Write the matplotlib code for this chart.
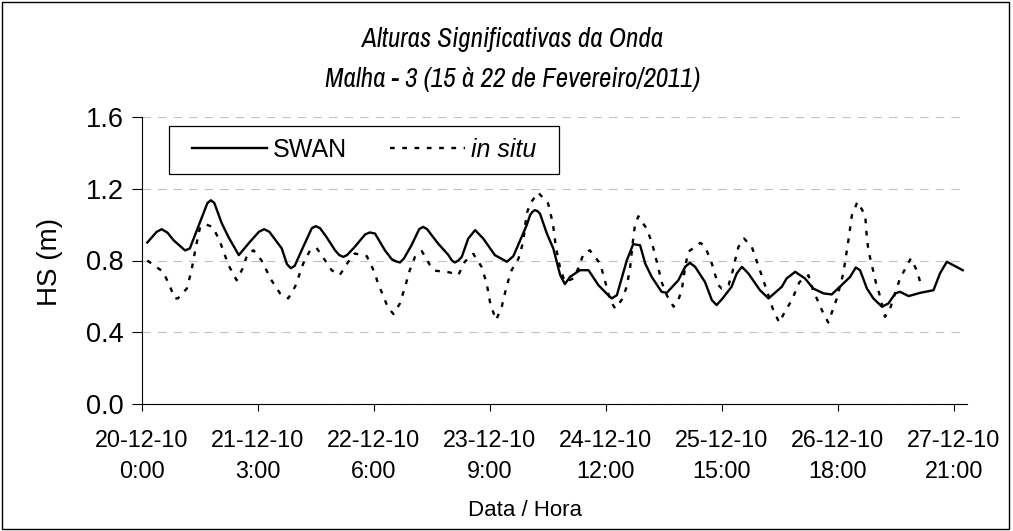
import matplotlib
matplotlib.use('Agg')
import matplotlib.pyplot as plt
from matplotlib.patches import Rectangle
from matplotlib import font_manager
from matplotlib.font_manager import FontProperties

# ---------------- data (hours since 20-12-10 0:00, HS in m) ----------------
swan_hours = [1.3, 3.5, 4.65, 6.0, 7.4, 10.1, 11.2, 15.3, 16.1, 16.9, 18.6, 20.2, 22.6, 25.2, 27.3, 28.5,
              29.7, 32.6, 33.8, 34.7, 35.6, 37.6, 39.6, 40.5, 41.5, 43.0, 45.0, 46.0, 46.9, 47.8, 49.6,
              52.0, 53.1, 54.3, 56.6, 58.2, 59.2, 60.1, 61.0, 62.8, 64.6, 65.5, 66.4, 69.0, 71.4, 72.2,
              72.9, 73.7, 74.5, 76.0, 77.6, 79.5, 82.2, 85.0, 86.5, 88.1, 89.6, 90.4, 90.9, 91.5, 92.1,
              92.7, 94.3, 95.8, 97.4, 98.5, 99.7, 102.0, 104.0, 106.3, 107.8, 109.4, 110.6, 112.9, 114.4,
              116.0, 117.2, 118.7, 121.0, 122.2, 124.9, 126.5, 127.6, 128.8, 131.1, 132.7, 133.8,
              135.2, 137.3, 138.5, 139.7, 141.2, 143.9, 145.9, 149.0, 150.1, 152.1, 154.4, 156.3,
              158.7, 160.6, 162.9, 164.9, 166.2, 167.2, 168.8, 170.3, 172.3, 173.8, 175.4, 176.5,
              178.5, 181.2, 184.3, 185.8, 187.4, 188.9, 191.1]
swan_hs = [0.900, 0.960, 0.974, 0.955, 0.913, 0.856, 0.867, 1.120, 1.135, 1.120, 1.009, 0.930, 0.830, 0.904, 0.960, 0.974,
           0.960, 0.867, 0.780, 0.757, 0.770, 0.876, 0.980, 0.991, 0.980, 0.931, 0.857, 0.830, 0.820, 0.830, 0.876,
           0.945, 0.956, 0.950, 0.857, 0.807, 0.795, 0.789, 0.810, 0.885, 0.975, 0.987, 0.975, 0.894, 0.830, 0.800,
           0.789, 0.800, 0.820, 0.922, 0.969, 0.922, 0.830, 0.793, 0.824, 0.913, 0.996, 1.052, 1.070, 1.080, 1.075,
           1.061, 0.950, 0.867, 0.719, 0.669, 0.709, 0.746, 0.746, 0.663, 0.626, 0.589, 0.607, 0.800, 0.891,
           0.885, 0.783, 0.709, 0.626, 0.620, 0.690, 0.765, 0.787, 0.765, 0.681, 0.580, 0.552,
           0.589, 0.654, 0.728, 0.765, 0.728, 0.635, 0.589, 0.654, 0.700, 0.737, 0.700, 0.644,
           0.617, 0.611, 0.663, 0.709, 0.761, 0.746, 0.644, 0.589, 0.543, 0.561, 0.617, 0.626,
           0.602, 0.620, 0.635, 0.728, 0.793, 0.774, 0.746]

insitu_hours = [1.3, 5.0, 6.6, 7.7, 8.4, 10.5, 11.6, 12.6, 13.6, 15.0, 16.5, 18.1, 20.2, 22.1, 23.5,
                24.6, 26.0, 27.9, 30.2, 32.2, 34.1, 35.7, 37.6, 39.2, 40.7, 42.7, 44.2, 46.1, 48.1,
                49.6, 52.4, 54.3, 55.1, 56.2, 57.2, 58.6, 60.1, 61.3, 62.4, 63.6, 65.2, 67.1, 68.3,
                71.0, 72.1, 73.7, 75.2, 77.2, 79.1, 80.3, 81.2, 82.5, 83.8, 85.0, 86.1, 87.7, 88.8,
                89.6, 90.5, 92.3, 94.6, 95.7, 96.4, 97.4, 98.5, 100.5, 101.6, 102.8, 104.3, 106.7,
                107.8, 109.0, 110.2, 111.7, 112.9, 113.7, 114.4, 114.8, 115.6, 117.5, 118.7, 120.1,
                121.0, 122.2, 123.8, 124.9, 125.7, 126.5, 127.2, 130.0, 131.1, 132.7, 134.2, 135.0,
                136.6, 137.5, 138.1, 138.9, 140.2, 142.0, 144.7, 147.0, 148.4, 149.7, 151.3, 153.1,
                155.2, 156.2, 158.3, 159.8, 161.8, 163.3, 164.5, 165.3, 166.6, 168.4, 168.8, 169.2,
                170.9, 171.7, 173.0, 174.2, 176.5, 179.0, 180.4, 181.2]
insitu_hs = [0.800, 0.737, 0.654, 0.589, 0.589, 0.644, 0.746, 0.876, 0.987, 1.000, 0.987, 0.913, 0.774, 0.690, 0.756,
             0.835, 0.857, 0.800, 0.690, 0.617, 0.589, 0.654, 0.783, 0.857, 0.870, 0.800, 0.746, 0.719, 0.793,
             0.839, 0.824, 0.728, 0.663, 0.607, 0.543, 0.502, 0.561, 0.654, 0.746, 0.820, 0.852, 0.774, 0.743,
             0.737, 0.731, 0.719, 0.793, 0.837, 0.765, 0.672, 0.552, 0.469, 0.543, 0.663, 0.746, 0.811, 0.904,
             1.061, 1.120, 1.178, 1.117, 1.006, 0.876, 0.756, 0.681, 0.700, 0.756, 0.835, 0.857, 0.783,
             0.690, 0.580, 0.533, 0.580, 0.654, 0.765, 0.922, 0.996, 1.046, 0.978, 0.904, 0.774,
             0.681, 0.607, 0.543, 0.580, 0.635, 0.765, 0.848, 0.898, 0.880, 0.783, 0.663, 0.644,
             0.663, 0.737, 0.800, 0.876, 0.922, 0.876, 0.690, 0.524, 0.455, 0.515, 0.579, 0.680,
             0.718, 0.640, 0.524, 0.455, 0.589, 0.728, 0.913, 1.052, 1.126, 1.052, 0.922, 0.850,
             0.676, 0.613, 0.487, 0.533, 0.700, 0.811, 0.746, 0.680]

tick_hours = [0, 27, 54, 81, 108, 135, 162, 189]
tick_dates = ['20-12-10', '21-12-10', '22-12-10', '23-12-10', '24-12-10', '25-12-10', '26-12-10', '27-12-10']
tick_times = ['0:00', '3:00', '6:00', '9:00', '12:00', '15:00', '18:00', '21:00']
y_ticks = [0.0, 0.4, 0.8, 1.2, 1.6]
series_names = ['SWAN', 'in situ']
title_lines = ['Alturas Significativas da Onda', 'Malha - 3 (15 à 22 de Fevereiro/2011)']

# ---------------- fonts ----------------
plt.rcParams['font.family'] = ['Liberation Sans', 'DejaVu Sans']


def narrow_italic_font(size):
    best = None
    for f in font_manager.fontManager.ttflist:
        if f.style not in ('italic', 'oblique'):
            continue
        if f.weight not in (400, 'normal', 'regular', 'book'):
            continue
        if 'Narrow' in f.name:
            best = f
            break
    if best is not None:
        return FontProperties(fname=best.fname, size=size)
    return FontProperties(family=['Liberation Sans', 'DejaVu Sans'], style='italic', size=size - 1)


title_font = narrow_italic_font(19.5)

W, H = 1013, 531
fig = plt.figure(figsize=(W / 100, H / 100), dpi=100)


def fx(px):
    return px / W


def fy(py):
    return 1 - py / H


left, right, top, bottom = 141.7, 966.6, 116.7, 404.3
ax = fig.add_axes([fx(left), fy(bottom), fx(right) - fx(left), fy(top) - fy(bottom)])

ax.set_xlim(0, 192)
ax.set_ylim(0, 1.6)

ax.yaxis.grid(True, color='#c0c0c0', lw=0.8, linestyle=(0, (7.5, 6.5)))
ax.set_axisbelow(True)

l1, = ax.plot(swan_hours, swan_hs, color='black', lw=1.7, solid_joinstyle='round', label=series_names[0])
l2, = ax.plot(insitu_hours, insitu_hs, color='black', lw=1.7, linestyle=(0, (2.0, 3.2)),
              label=series_names[1])

for s in ['top', 'right']:
    ax.spines[s].set_visible(False)
for s in ['left', 'bottom']:
    ax.spines[s].set_linewidth(0.8)
    ax.spines[s].set_color('black')

ax.set_yticks(y_ticks)
ax.set_yticklabels([f'{v:.1f}' for v in y_ticks], fontsize=19.5)
ax.set_xticks(tick_hours)
ax.set_xticklabels([f'{d}\n{t}' for d, t in zip(tick_dates, tick_times)], fontsize=16.8, linespacing=1.45)
ax.tick_params(axis='y', direction='out', length=7, width=0.8, pad=6)
ax.tick_params(axis='x', direction='out', length=5, width=0.8, pad=13)

# axis titles
fig.text(fx(50), fy(262), 'HS (m)', rotation=90, ha='center', va='center', fontsize=20)
fig.text(fx(525), fy(511), 'Data / Hora', ha='center', va='center', fontsize=16)

# chart title
fig.text(fx(513), fy(40), title_lines[0], ha='center', va='center', fontproperties=title_font)
fig.text(fx(513), fy(80), title_lines[1], ha='center', va='center', fontproperties=title_font)

# legend (content) + frame
leg = ax.legend(handles=[l1, l2], loc='center left', ncol=2, frameon=False, fontsize=18,
                bbox_to_anchor=(fx(191.7), fy(150)), bbox_transform=fig.transFigure,
                borderpad=0, borderaxespad=0, handlelength=3.0, handletextpad=0.25,
                columnspacing=1.7)
leg.get_texts()[1].set_style('italic')
fig.patches.append(Rectangle((fx(169.3), fy(174.3)), fx(559.3) - fx(169.3), fy(126) - fy(174.3),
                             transform=fig.transFigure, fill=False, ec='black', lw=0.9))

# chart border
fig.patches.append(Rectangle((fx(1.5), fy(528.5)), fx(1008.5) - fx(1.5), fy(1.5) - fy(528.5),
                             transform=fig.transFigure, fill=False, ec='black', lw=1.0))

fig.savefig('out.png', dpi=100)
